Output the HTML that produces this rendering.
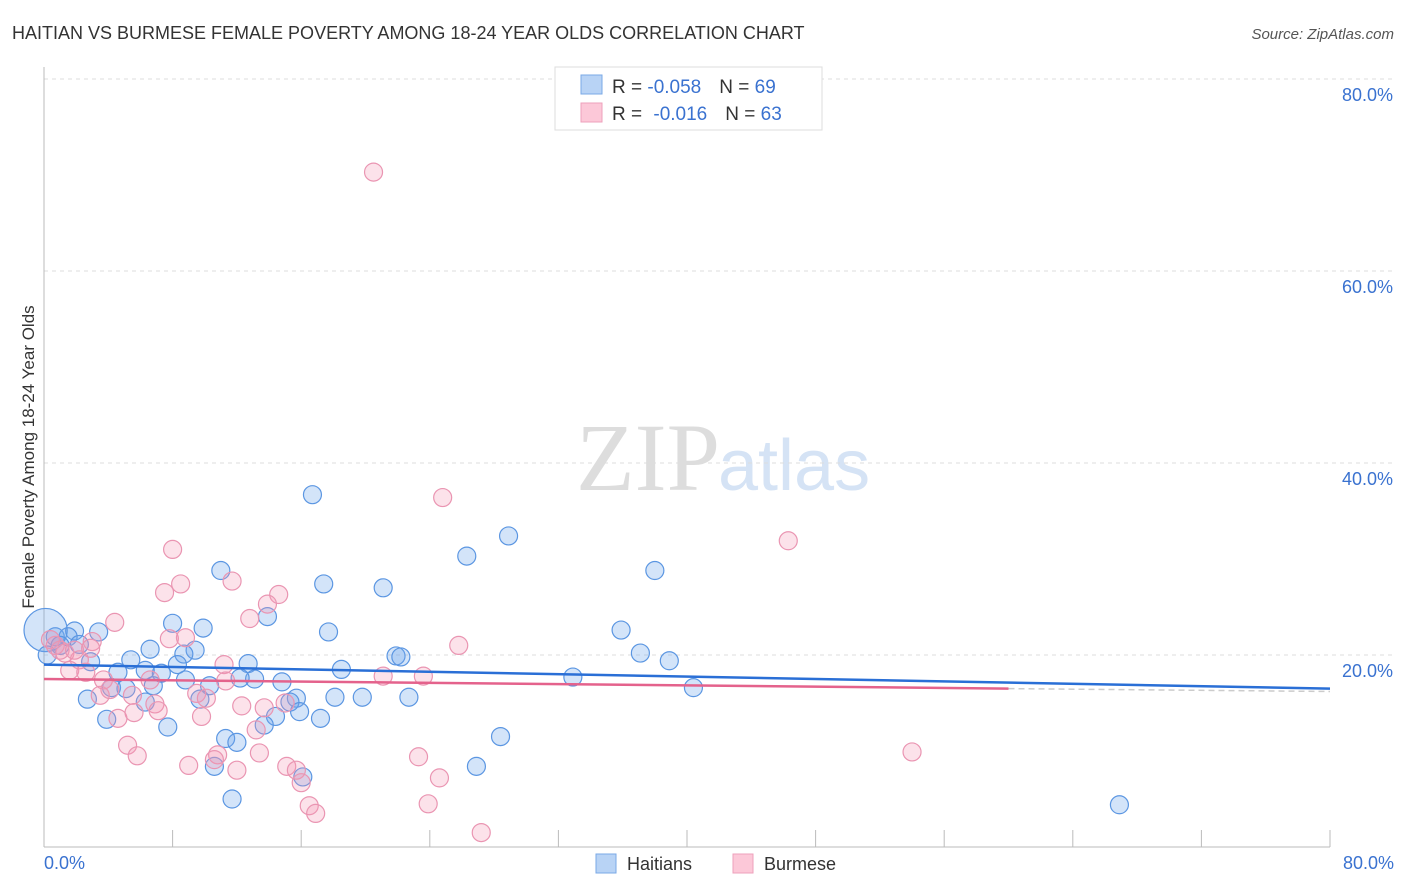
<!DOCTYPE html>
<html><head><meta charset="utf-8">
<style>
body{margin:0;background:#fff;font-family:"Liberation Sans",sans-serif;}
#c{position:absolute;left:0;top:0;}
</style></head>
<body>
<svg id="c" width="1406" height="892" xmlns="http://www.w3.org/2000/svg">
<text x="12" y="39" font-size="18" fill="#333">HAITIAN VS BURMESE FEMALE POVERTY AMONG 18-24 YEAR OLDS CORRELATION CHART</text>
<text x="1394" y="39" font-size="15" fill="#555" text-anchor="end" font-style="italic">Source: ZipAtlas.com</text>
<text x="720" y="490" font-size="96" text-anchor="end" fill="#ddd" font-family="Liberation Serif,serif">ZIP</text>
<text x="718" y="490" font-size="72" fill="#d5e3f5">atlas</text>
<g id="grid"></g>
<g id="axes"></g>
<g id="pts"></g>
<g id="trends"></g>
<text transform="translate(34,457) rotate(-90)" font-size="17" fill="#333" text-anchor="middle">Female Poverty Among 18-24 Year Olds</text>
<text x="44" y="869" font-size="18" fill="#3a72d0">0.0%</text>
<text x="1394" y="869" font-size="18" fill="#3a72d0" text-anchor="end">80.0%</text>
<g>
<rect x="555" y="67" width="267" height="63" fill="#fff" stroke="#ddd"/>
<rect x="581" y="75" width="21" height="19" fill="#b8d3f5" stroke="#7aa8e6"/>
<rect x="581" y="103" width="21" height="19" fill="#fcc8d8" stroke="#eea0bb"/>
<text x="612" y="93" font-size="19" fill="#333">R = <tspan fill="#3a72d0">-0.058</tspan><tspan dx="18">N = </tspan><tspan fill="#3a72d0">69</tspan></text>
<text x="612" y="120" font-size="19" fill="#333">R = <tspan fill="#3a72d0" dx="6">-0.016</tspan><tspan dx="18">N = </tspan><tspan fill="#3a72d0">63</tspan></text>
</g>
<g>
<rect x="596" y="854" width="20" height="19" fill="#b8d3f5" stroke="#7aa8e6"/>
<text x="627" y="870" font-size="18" fill="#333">Haitians</text></g>
<g>
<rect x="733" y="854" width="20" height="19" fill="#fcc8d8" stroke="#eea0bb"/>
<text x="764" y="870" font-size="18" fill="#333">Burmese</text></g>
</svg>
<script>
const yTicks=[20,40,60,80];
const yTickLabels=["20.0%","40.0%","60.0%","80.0%"];
const xTicks=[0,8,16,24,32,40,48,56,64,72,80];
const haitianX=[16.7,28.9,26.3,38.0,11.0,17.4,21.1,13.9,8.0,9.9,3.4,1.9,17.7,35.9,6.6,9.4,8.7,37.1,21.9,22.2,38.9,5.4,12.7,8.3,18.5,0.7,1.5,2.9,4.6,6.3,7.3,8.8,10.3,13.1,14.8,12.2,6.8,4.2,5.1,40.4,15.7,18.1,19.8,22.7,32.9,2.7,6.3,9.7,15.3,14.4,15.9,17.2,13.7,3.9,7.7,28.4,11.3,12.0,10.6,26.9,16.1,11.7,66.9,0.1,1.0,2.2,0.2];
const haitianY=[36.7,32.4,30.3,28.8,28.8,27.4,27.0,24.0,23.3,22.8,22.4,22.5,22.4,22.6,20.6,20.5,20.1,20.2,19.9,19.8,19.4,19.5,19.1,19.0,18.5,21.9,21.9,19.3,18.2,18.4,18.1,17.4,16.8,17.5,17.2,17.6,16.8,16.6,16.5,16.6,15.5,15.6,15.6,15.6,17.7,15.4,15.1,15.4,15.1,13.6,14.1,13.4,12.7,13.3,12.5,11.5,11.3,10.9,8.4,8.4,7.3,5.0,4.4,22.6,21.0,21.1,20.0];
const haitianSize=[1,1,1,1,1,1,1,1,1,1,1,1,1,1,1,1,1,1,1,1,1,1,1,1,1,1,1,1,1,1,1,1,1,1,1,1,1,1,1,1,1,1,1,1,1,1,1,1,1,1,1,1,1,1,1,1,1,1,1,1,1,1,1,2.4,1,1,1];
const burmeseX=[20.5,24.8,46.3,8.0,8.5,7.5,11.7,14.6,13.9,12.8,4.4,3.0,7.8,8.8,25.8,0.7,1.3,2.2,3.7,1.6,2.6,3.5,6.6,11.2,9.5,10.1,6.9,5.5,11.3,12.3,13.7,15.0,21.1,23.6,4.6,5.6,7.1,9.8,13.2,5.2,5.8,10.8,10.6,13.4,9.0,12.0,15.1,15.7,16.0,23.3,24.6,54.0,23.9,16.5,16.9,27.2,0.4,1.0,1.9,2.9,4.1];
const burmeseY=[70.3,36.4,31.9,31.0,27.4,26.5,27.7,26.3,25.3,23.8,23.4,21.4,21.7,21.8,21.0,21.0,20.2,19.5,17.4,18.4,18.2,15.8,17.4,19.0,16.0,15.5,14.9,15.8,17.3,14.7,14.5,15.0,17.8,17.8,13.4,14.0,14.2,13.6,12.2,10.6,9.5,9.6,9.1,9.8,8.5,8.0,8.4,8.0,6.7,9.4,7.2,9.9,4.5,4.3,3.5,1.5,21.6,20.5,20.5,20.7,16.4];
const haitianTrend=[[0,19.0],[80,16.5]];
const burmeseTrend=[[0,17.5],[60,16.5],[80,16.2]];
const NS="http://www.w3.org/2000/svg";
const X0=44,X1=1330,Y0=847,Y1=79;
const sx=v=>X0+(X1-X0)*v/80, sy=v=>Y0-(Y0-Y1)*v/80;
function mk(t,a,p){const e=document.createElementNS(NS,t);for(const k in a)e.setAttribute(k,a[k]);document.getElementById(p).appendChild(e);return e;}
yTicks.forEach((t,i)=>{
 const l=mk('line',{x1:X0,x2:1393,y1:sy(t),y2:sy(t),stroke:'#ddd','stroke-dasharray':'4,4'},'grid');
 
 
 const tx=mk('text',{x:1393,y:sy(t)+22,'font-size':18,fill:'#3a72d0','text-anchor':'end'},'grid');
 tx.textContent=yTickLabels[i];
 
 
});
let a=mk('line',{x1:X0,x2:X0,y1:67,y2:Y0,stroke:'#bbb'},'axes');


a=mk('line',{x1:X0,x2:X1,y1:Y0,y2:Y0,stroke:'#bbb'},'axes');


xTicks.forEach(t=>{const l=mk('line',{x1:sx(t),x2:sx(t),y1:830,y2:Y0,stroke:'#bbb'},'axes');
 
 });
function pts(xs,ys,fill,stroke,name,sz){xs.forEach((x,i)=>{const c=mk('circle',{cx:sx(x),cy:sy(ys[i]),r:9*(sz?sz[i]:1),fill:fill,stroke:stroke,'stroke-width':1.2},'pts');
 
 });}
pts(haitianX,haitianY,'rgba(110,165,235,0.3)','#5b96e2','haitian-point',haitianSize);
pts(burmeseX,burmeseY,'rgba(245,150,180,0.28)','#ea95b2','burmese-point');
let t=mk('line',{x1:sx(haitianTrend[0][0]),y1:sy(haitianTrend[0][1]),x2:sx(haitianTrend[1][0]),y2:sy(haitianTrend[1][1]),stroke:'#2a6fd6','stroke-width':2.5},'trends');


t=mk('line',{x1:sx(burmeseTrend[0][0]),y1:sy(burmeseTrend[0][1]),x2:sx(burmeseTrend[1][0]),y2:sy(burmeseTrend[1][1]),stroke:'#e4628c','stroke-width':2.5},'trends');


t=mk('line',{x1:sx(burmeseTrend[1][0]),y1:sy(burmeseTrend[1][1]),x2:sx(burmeseTrend[2][0]),y2:sy(burmeseTrend[2][1]),stroke:'#ccc','stroke-width':1.5,'stroke-dasharray':'6,4'},'trends');


</script>
</body></html>
